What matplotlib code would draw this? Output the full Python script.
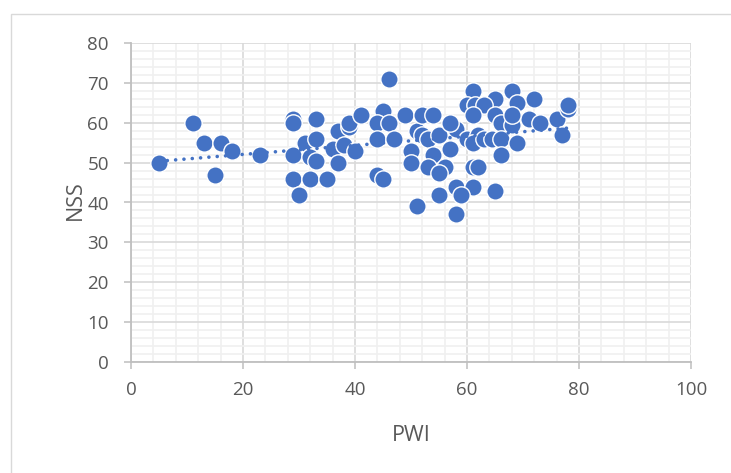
import matplotlib
matplotlib.use("Agg")
import matplotlib.pyplot as plt
import numpy as np
from matplotlib.patches import Rectangle
from matplotlib.ticker import MultipleLocator

pwi = [5, 11, 13, 16, 15, 18, 23,
       29, 29, 33, 29, 31, 33, 32, 33, 36, 37, 37, 38, 39, 39, 40, 41,
       29, 32, 35, 30, 44, 45,
       46, 45, 44, 46, 44, 47, 49, 50, 50, 51, 51, 52, 52, 53, 54,
       55, 58, 57, 54, 57, 53, 56, 55,
       61, 68, 65, 72, 69, 60, 61.5, 63, 61, 65, 66, 71, 68, 68, 73, 76, 78, 78, 77,
       60, 62, 61, 63, 64.5, 66, 69, 66, 61, 62,
       58, 61, 59, 55, 65, 58]
nss = [50, 60, 55, 55, 47, 53, 52,
       61, 60, 61, 52, 55, 56, 51.5, 50.5, 53.5, 58, 50, 54.5, 59, 60, 53, 62,
       46, 46, 46, 42, 47, 46,
       71, 63, 60, 60, 56, 56, 62, 53, 50, 39, 58, 62, 57, 56, 62,
       57, 58.5, 60, 52, 53.5, 49, 49, 47.5,
       68, 68, 66, 66, 65, 64.5, 64.5, 64.5, 62, 62, 60, 61, 59.5, 62, 60, 61, 63.5, 64.5, 57,
       56, 57, 55, 56, 56, 56, 55, 52, 49, 49,
       44, 44, 42, 42, 43, 37]

x_ticks = [0, 20, 40, 60, 80, 100]
y_ticks = [0, 10, 20, 30, 40, 50, 60, 70, 80]
x_label = "PWI"
y_label = "NSS"

BLUE = "#4472C4"
plt.rcParams['font.family'] = ['Open Sans', 'DejaVu Sans']

W, H = 731, 473
fig = plt.figure(figsize=(W / 100, H / 100), dpi=100)
ax = fig.add_axes([131 / W, (H - 362) / H, 560 / W, 319 / H])

# outer chart border
fig.patches.append(Rectangle((11 / W, -0.2), 2.0, (H - 14) / H + 0.2,
                             transform=fig.transFigure, fill=False,
                             edgecolor="#D9D9D9", linewidth=1.0))

ax.set_xlim(0, 100)
ax.set_ylim(0, 80)
ax.set_xticks(x_ticks)
ax.set_yticks(y_ticks)
ax.xaxis.set_minor_locator(MultipleLocator(4))
ax.yaxis.set_minor_locator(MultipleLocator(2))
ax.grid(which="major", color="#D9D9D9", linewidth=1.2, zorder=0)
ax.grid(which="minor", color="#F0F0F0", linewidth=1.2, zorder=0)
ax.set_axisbelow(True)
for s in ["top", "right"]:
    ax.spines[s].set_visible(False)
for s in ["left", "bottom"]:
    ax.spines[s].set_color("#BFBFBF")
    ax.spines[s].set_linewidth(1.3)
ax.tick_params(which="major", direction="out", length=5, width=1.1,
               color="#BFBFBF", labelcolor="#595959", labelsize=13.5)
ax.tick_params(axis="x", pad=9)
ax.tick_params(axis="y", pad=11)
ax.tick_params(which="minor", length=0)

ax.scatter(pwi, nss, s=12.5 ** 2, color=BLUE, edgecolors="white",
           linewidths=1.0, zorder=3)

# linear trendline
coef = np.polyfit(pwi, nss, 1)
xt = np.array([min(pwi), max(pwi)])
ax.plot(xt, np.polyval(coef, xt), color=BLUE, linewidth=2.6,
        linestyle=(0, (0.01, 2.3)), dash_capstyle="round", zorder=4)

ax.set_xlabel(x_label, fontsize=15.5, color="#595959")
ax.set_ylabel(y_label, fontsize=15.5, color="#595959")
ax.xaxis.set_label_coords(0.5, -0.229)
ax.xaxis.label.set_va("center")
ax.yaxis.set_label_coords(-0.1, 0.508)
ax.yaxis.label.set_va("center")

fig.savefig("out.png", dpi=100)
